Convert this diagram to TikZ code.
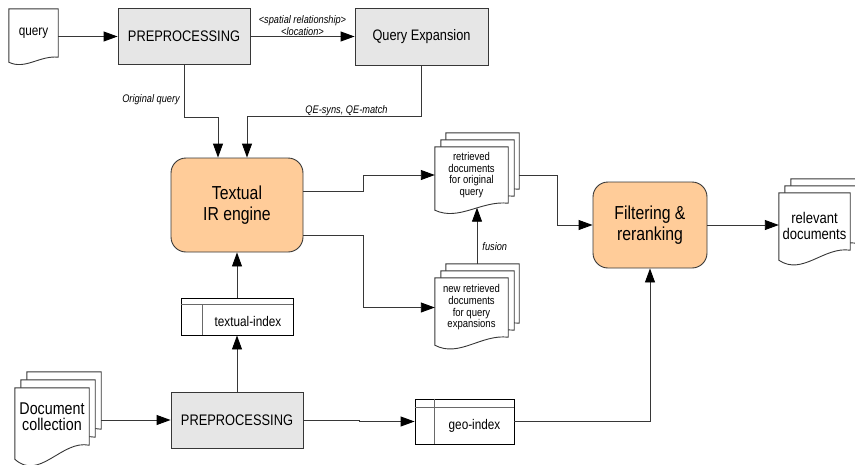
\documentclass[tikz,border=0pt]{standalone}
\usepackage{fontspec}
\setmainfont{Liberation Sans}[FakeStretch=0.84]
\usetikzlibrary{arrows.meta,calc,backgrounds}

\definecolor{boxgray}{RGB}{230,230,230}
\definecolor{peach}{RGB}{255,204,153}
\definecolor{linegray}{RGB}{55,55,55}

\newcommand\fs[2]{\fontsize{#1}{#2}\selectfont}

% Document sheet with a wavy lower edge, drawn round node #1,
% shifted by (#2,#3); #4 is how far the left corner drops.
\newcommand\wavedoc[4]{%
  \filldraw[docline]
    ($(#1.north west)+(#2,#3)$) -- ($(#1.north east)+(#2,#3)$)
    -- ($(#1.south east)+(#2,#3)$)
    .. controls ($(#1.south west)!0.63!(#1.south east)+(#2,#3-0.4*#4)$)
    and ($(#1.south west)!0.33!(#1.south east)+(#2,#3+2.6*#4)$)
    .. ($(#1.south west)+(#2,#3+#4)$) -- cycle;}

\begin{document}
\begin{tikzpicture}[x=1pt,y=-1pt,
  >={Triangle[length=14pt,width=10pt,color=black,fill=black]},
  proc/.style={draw=linegray, line width=0.9pt, fill=boxgray,
    minimum width=132pt, minimum height=56pt, inner sep=0pt},
  engine/.style={draw=linegray, line width=0.9pt, fill=peach,
    rounded corners=15pt, align=center, inner sep=0pt},
  doctext/.style={inner sep=0pt, align=center},
  docline/.style={draw=linegray, line width=0.9pt, fill=white},
  idx/.style={draw=black, line width=0.9pt, fill=white, inner sep=0pt},
  idxline/.style={draw=linegray!75, line width=0.9pt},
  idxtext/.style={inner sep=0pt, font=\fs{14}{16}},
  conn/.style={draw=linegray, line width=0.9pt, ->},
  lbl/.style={font=\fs{11}{12}\itshape, inner sep=0pt, align=center},
]
\useasboundingbox (0,0) rectangle (855,464);

% ---- nodes ----
\node[doctext, minimum width=49pt, minimum height=48pt, font=\fs{14}{16}] (query) at (33.5,33) {query};
\node[proc, font=\fs{15.3}{17}] (pre1) at (184,36.5) {PREPROCESSING};
\node[proc, minimum width=133pt, minimum height=57pt, font=\fs{15.2}{17}] (qe) at (421.5,36.5) {Query Expansion};

\node[engine, minimum width=132pt, minimum height=94pt, font=\fs{18.8}{21}] (ir) at (237,205) {Textual\\IR engine};
\node[engine, minimum width=114pt, minimum height=86pt, font=\fs{18.8}{21}] (filter) at (650,225) {Filtering \&\\reranking};

\node[doctext, minimum width=73pt, minimum height=56pt, font=\fs{11.3}{11.7}] (ret) at (471.5,175) {retrieved\\documents\\for original\\query};
\node[doctext, minimum width=73pt, minimum height=59pt, font=\fs{11.3}{11.7}] (newret) at (471.5,307.5) {new retrieved\\documents\\for query\\expansions};
\node[doctext, minimum width=71pt, minimum height=57pt] (rel) at (814.5,221.5) {};
\node[doctext, font=\fs{15.5}{16}] (reltext) at ($(rel.center)+(0,4)$) {relevant\\documents};

\node[idx, minimum width=112pt, minimum height=37pt] (tidx) at (237,316.5) {};
\draw[idxline] ($(tidx.north west)+(0,7)$) -- ($(tidx.north east)+(0,7)$);
\draw[idxline] ($(tidx.north west)+(22,7)$) -- ($(tidx.south west)+(22,0)$);
\node[idxtext] (tidxtext) at ($(tidx.center)+(11,4.5)$) {textual-index};

\node[doctext, minimum width=74pt, minimum height=57pt, font=\fs{17}{16.5}] (docc) at (52,416.5) {Document\\collection};
\node[proc, font=\fs{15.3}{17}] (pre2) at (237,420) {PREPROCESSING};

\node[idx, minimum width=99pt, minimum height=45pt] (geo) at (464.5,421.5) {};
\draw[idxline] ($(geo.north west)+(0,9)$) -- ($(geo.north east)+(0,9)$);
\draw[idxline] ($(geo.north west)+(20,0)$) -- ($(geo.south west)+(20,0)$);
\node[idxtext] (geotext) at ($(geo.center)+(10,4.5)$) {geo-index};

% ---- document sheets ----
\begin{scope}[on background layer]
  \wavedoc{query}{0}{0}{5}
  \wavedoc{ret}{11}{-14}{7}
  \wavedoc{ret}{6}{-7}{7}
  \wavedoc{ret}{0}{0}{7}
  \wavedoc{newret}{11}{-14}{8}
  \wavedoc{newret}{6}{-7}{8}
  \wavedoc{newret}{0}{0}{8}
  \wavedoc{rel}{12}{-14}{10}
  \wavedoc{rel}{6}{-7}{10}
  \wavedoc{rel}{0}{0}{10}
  \wavedoc{docc}{12}{-16}{14}
  \wavedoc{docc}{6}{-8}{14}
  \wavedoc{docc}{0}{0}{14}
\end{scope}

% ---- connectors ----
\draw[conn] (query.east |- pre1.west) -- (pre1.west);
\draw[conn] (pre1.east) -- (qe.west);
\node[lbl] (spatlbl) at ($(pre1.east)!0.5!(qe.west)+(0,-10.5)$) {<spatial relationship>\\<location>};

\draw[conn] (pre1.south) |- ($(ir.north)+(-19,-40)$) -- ($(ir.north)+(-19,0)$);
\node[lbl, anchor=east] (origlbl) at ($(pre1.south)+(-4,35)$) {Original query};

\draw[conn] (qe.south) |- ($(ir.north)+(10,-41)$) -- ($(ir.north)+(10,0)$);
\node[lbl] (qelbl) at ($(qe.south)+(-75,45)$) {QE-syns, QE-match};

\draw[conn] ($(ir.east)+(0,-14)$) -- ($(ir.east)+(60,-14)$) |- (ret.west);
\draw[conn] ($(ir.east)+(0,30)$) -- ($(ir.east)+(60,30)$) |- (newret.west);

\draw[conn] ($(newret.north)+(5.5,-14)$) -- node[lbl, pos=0.3, right=5pt] (fuslbl) {fusion} ($(ret.south)+(5.5,4.5)$);

\draw[conn] ($(ret.east)+(11,0)$) -- ($(ret.east)+(49,0)$) |- (filter.west);
\draw[conn] (filter.east) -- (filter.east -| rel.west);

\draw[conn] (tidx.north) -- (ir.south);
\draw[conn] (pre2.north) -- (tidx.south);

\coordinate (doccback) at ($(docc.east)+(12,0)$);
\draw[conn] (doccback |- pre2.west) -- (pre2.west);
\draw[conn] (pre2.east) -| ($(pre2.east)!0.5!(geo.west)$) |- (geo.west);
\draw[conn] (geo.east) -| (filter.south);
\end{tikzpicture}
\end{document}
